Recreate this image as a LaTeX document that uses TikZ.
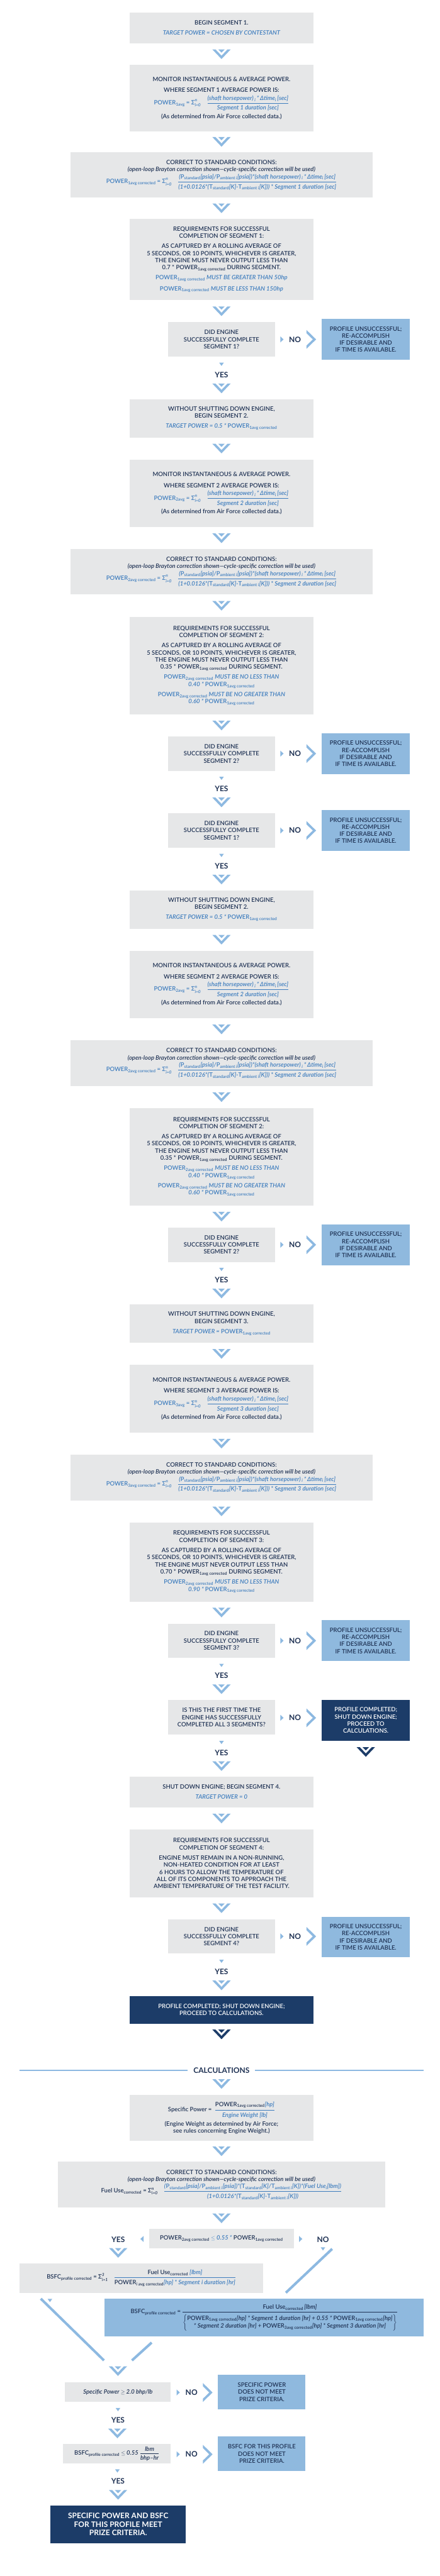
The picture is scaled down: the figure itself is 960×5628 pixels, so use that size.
\documentclass[tikz,border=0pt]{standalone}
\usepackage{fontspec}
\usepackage{amsmath}
\IfFontExistsTF{Lato Semibold}{\setmainfont{Lato}[UprightFont=* Semibold, ItalicFont=* Semibold Italic, BoldFont=* Bold, BoldItalicFont=* Bold Italic]}{\setmainfont{Lato}}
\usetikzlibrary{positioning,calc}

\definecolor{boxgray}{HTML}{E6E7E8}
\definecolor{paleblue}{HTML}{8FB9DE}
\definecolor{navybox}{HTML}{1C3C68}
\definecolor{navytext}{HTML}{1F3254}
\definecolor{formblue}{HTML}{3E7DBE}
\definecolor{chevblue}{HTML}{8DB9E1}

\newcommand{\pwr}[1]{\textup{POWER}\textsubscript{\upshape #1}}
\newcommand{\sub}[2]{\textup{#1}\textsubscript{\upshape #2}}
\newcommand{\avgform}[1]{{\color{formblue}$\text{\pwr{#1avg} = Σ}^{\text{\itshape n}}_{\text{\itshape i=0}}\quad\genfrac{}{}{1.3pt}{0}{\text{\itshape (shaft horsepower)\,\textsubscript{i}\,*\,Δtime\textsubscript{i}\,[sec]}}{\text{\itshape Segment #1 duration [sec]}}$}}
\newcommand{\corrform}[1]{{\color{formblue}$\text{\pwr{#1avg corrected} = Σ}^{\text{\itshape n}}_{\text{\itshape i=0}}\quad\genfrac{}{}{1.3pt}{0}{\text{\itshape (\sub{P}{standard}[psia]/\sub{P}{ambient \itshape i}[psia])*(shaft horsepower)\,\textsubscript{i}\,*\,Δtime\textsubscript{i}\,[sec]}}{\text{\itshape (1+0.0126*(\sub{T}{standard}[K]-\sub{T}{ambient \itshape i}[K])) * Segment #1 duration [sec]}}$}}
\newcommand{\monitor}[1]{MONITOR INSTANTANEOUS \& AVERAGE POWER.\\[8.5pt]WHERE SEGMENT #1 AVERAGE POWER IS:\\[6pt]\avgform{#1}\\[5pt](As determined from Air Force collected data.)}
\newcommand{\correct}[1]{CORRECT TO STANDARD CONDITIONS:\\{\itshape (open-loop Brayton correction shown---cycle-specific correction will be used)}\\[2pt]\corrform{#1}}
\newcommand{\rolling}{AS CAPTURED BY A ROLLING AVERAGE OF\\5 SECONDS, OR 10 POINTS, WHICHEVER IS GREATER,\\THE ENGINE MUST NEVER OUTPUT LESS THAN}
\newcommand{\unsuccessful}{PROFILE UNSUCCESSFUL;\\RE-ACCOMPLISH\\IF DESIRABLE AND\\IF TIME IS AVAILABLE.}

\tikzset{
  flow/.style={fill=boxgray, text=navytext, align=center, inner sep=0pt, font=\fontsize{13}{15.5}\selectfont},
  stepbox/.style={flow, minimum width=402pt},
  widebox/.style={flow, minimum width=660pt},
  askbox/.style={flow, minimum width=233pt, minimum height=75pt},
  failbox/.style={flow, fill=paleblue, minimum width=193pt, minimum height=89pt},
  endbox/.style={flow, fill=navybox, text=white},
  answer/.style={text=navytext, inner sep=0pt, font=\bfseries\fontsize{16.5}{18}\selectfont},
  armline/.style={chevblue, line width=5.5pt},
  pics/vchev/.style={code={
    \fill[#1] (-20,-10.5) -- (0,10.5) -- (20,-10.5) -- (13,-10.5) -- (0,3.2) -- (-13,-10.5) -- cycle;
    \fill[#1] (-7,-10.5) -- (7,-10.5) -- (0,-3.5) -- cycle;
  }},
  pics/hchev/.style={code={
    \fill[chevblue] (-10.5,-20.5) -- (10.5,0) -- (-10.5,20.5) -- (-10.5,13.5) -- (3.3,0) -- (-10.5,-13.5) -- cycle;
  }},
  pics/dtip/.style={code={\fill[chevblue] (-5,-3.5) -- (5,-3.5) -- (0,3.5) -- cycle;}},
  pics/rtip/.style={code={\fill[chevblue] (-3.5,-6.5) -- (3.5,0) -- (-3.5,6.5) -- cycle;}},
  pics/ltip/.style={code={\fill[chevblue] (3.5,-6.5) -- (-3.5,0) -- (3.5,6.5) -- cycle;}}
}

\begin{document}
\begin{tikzpicture}[x=1pt,y=-1pt]
\fill[white] (0,0) rectangle (960,5628);
\useasboundingbox (0,0) rectangle (960,5628);

\node[stepbox, minimum height=68pt] (beg1) at (483.5,61) {BEGIN SEGMENT 1.\\[6pt]{\color{formblue}\itshape TARGET POWER = CHOSEN BY CONTESTANT}};
\node[stepbox, minimum height=145pt] (mon1) at (483.5,214.5) {\monitor{1}};
\node[widebox, minimum height=99pt] (cor1) at (483.5,382.5) {\correct{1}};
\node[stepbox, minimum height=178pt] (req1) at (483.5,567) {REQUIREMENTS FOR SUCCESSFUL\\COMPLETION OF SEGMENT 1:\\[7pt]\rolling\\0.7 * \pwr{1avg corrected} DURING SEGMENT.\\[7pt]{\color{formblue}\pwr{1avg corrected} \itshape MUST BE GREATER THAN 50hp}\\[8pt]{\color{formblue}\pwr{1avg corrected} \itshape MUST BE LESS THAN 150hp}};
\node[askbox] (ask1) at (483.5,741.5) {DID ENGINE\\SUCCESSFULLY COMPLETE\\SEGMENT 1?};
\node[answer] (no1) at (644,741.5) {NO};
\node[failbox] (fail1) at (798.5,741.5) {\unsuccessful};
\node[answer] (yes1) at (483.5,819) {YES};

\node[stepbox, minimum height=84pt] (beg2) at (483.5,914) {WITHOUT SHUTTING DOWN ENGINE,\\BEGIN SEGMENT 2.\\[7pt]{\color{formblue}\itshape TARGET POWER = 0.5 * \pwr{1avg corrected}}};
\node[stepbox, minimum height=148pt] (mon2) at (483.5,1078) {\monitor{2}};
\node[widebox, minimum height=99pt] (cor2) at (483.5,1249.5) {\correct{2}};
\node[stepbox, minimum height=213pt] (req2) at (483.5,1454.5) {REQUIREMENTS FOR SUCCESSFUL\\COMPLETION OF SEGMENT 2:\\[7pt]\rolling\\0.35 * \pwr{1avg corrected} DURING SEGMENT.\\[7pt]{\color{formblue}\pwr{2avg corrected} \itshape MUST BE NO LESS THAN}\\{\color{formblue}\itshape 0.40 * \pwr{1avg corrected}}\\[7pt]{\color{formblue}\pwr{2avg corrected} \itshape MUST BE NO GREATER THAN}\\{\color{formblue}\itshape 0.60 * \pwr{1avg corrected}}};
\node[askbox] (ask2) at (483.5,1646.5) {DID ENGINE\\SUCCESSFULLY COMPLETE\\SEGMENT 2?};
\node[answer] (no2) at (644,1646.5) {NO};
\node[failbox] (fail2) at (798.5,1646.5) {\unsuccessful};
\node[answer] (yes2) at (483.5,1723) {YES};
\node[askbox] (askr) at (483.5,1814.5) {DID ENGINE\\SUCCESSFULLY COMPLETE\\SEGMENT 1?};
\node[answer] (nor) at (644,1814.5) {NO};
\node[failbox] (failr) at (798.5,1814.5) {\unsuccessful};
\node[answer] (yesr) at (483.5,1892) {YES};

\node[stepbox, minimum height=84pt] (beg2r) at (483.5,1987) {WITHOUT SHUTTING DOWN ENGINE,\\BEGIN SEGMENT 2.\\[7pt]{\color{formblue}\itshape TARGET POWER = 0.5 * \pwr{1avg corrected}}};
\node[stepbox, minimum height=148pt] (mon2r) at (483.5,2151) {\monitor{2}};
\node[widebox, minimum height=100pt] (cor2r) at (483.5,2323) {\correct{2}};
\node[stepbox, minimum height=213pt] (req2r) at (483.5,2527.5) {REQUIREMENTS FOR SUCCESSFUL\\COMPLETION OF SEGMENT 2:\\[7pt]\rolling\\0.35 * \pwr{1avg corrected} DURING SEGMENT.\\[7pt]{\color{formblue}\pwr{2avg corrected} \itshape MUST BE NO LESS THAN}\\{\color{formblue}\itshape 0.40 * \pwr{1avg corrected}}\\[7pt]{\color{formblue}\pwr{2avg corrected} \itshape MUST BE NO GREATER THAN}\\{\color{formblue}\itshape 0.60 * \pwr{1avg corrected}}};
\node[askbox] (ask2r) at (483.5,2719.5) {DID ENGINE\\SUCCESSFULLY COMPLETE\\SEGMENT 2?};
\node[answer] (no2r) at (644,2719.5) {NO};
\node[failbox] (fail2r) at (798.5,2719.5) {\unsuccessful};
\node[answer] (yes2r) at (483.5,2796) {YES};

\node[stepbox, minimum height=84pt] (beg3) at (483.5,2892) {WITHOUT SHUTTING DOWN ENGINE,\\BEGIN SEGMENT 3.\\[7pt]{\color{formblue}\itshape TARGET POWER = \pwr{1avg corrected}}};
\node[stepbox, minimum height=148pt] (mon3) at (483.5,3056) {\monitor{3}};
\node[widebox, minimum height=100pt] (cor3) at (483.5,3228) {\correct{3}};
\node[stepbox, minimum height=173pt] (req3) at (483.5,3412.5) {REQUIREMENTS FOR SUCCESSFUL\\COMPLETION OF SEGMENT 3:\\[7pt]\rolling\\0.70 * \pwr{1avg corrected} DURING SEGMENT.\\[7pt]{\color{formblue}\pwr{2avg corrected} \itshape MUST BE NO LESS THAN}\\{\color{formblue}\itshape 0.90 * \pwr{1avg corrected}}};
\node[askbox] (ask3) at (483.5,3584.5) {DID ENGINE\\SUCCESSFULLY COMPLETE\\SEGMENT 3?};
\node[answer] (no3) at (644,3584.5) {NO};
\node[failbox] (fail3) at (798.5,3584.5) {\unsuccessful};
\node[answer] (yes3) at (483.5,3661) {YES};
\node[askbox, minimum height=76pt] (first) at (483.5,3752) {IS THIS THE FIRST TIME THE\\ENGINE HAS SUCCESSFULLY\\COMPLETED ALL 3 SEGMENTS?};
\node[answer] (nofirst) at (644,3753) {NO};
\node[endbox, minimum width=193pt, minimum height=89pt] (done3) at (798.5,3758.5) {PROFILE COMPLETED;\\SHUT DOWN ENGINE;\\PROCEED TO\\CALCULATIONS.};
\node[answer] (yesfirst) at (483.5,3830) {YES};

\node[stepbox, minimum height=68pt] (shut) at (483.5,3915) {SHUT DOWN ENGINE; BEGIN SEGMENT 4.\\[7pt]{\color{formblue}\itshape TARGET POWER = 0}};
\node[stepbox, minimum height=148pt] (req4) at (483.5,4071) {REQUIREMENTS FOR SUCCESSFUL\\COMPLETION OF SEGMENT 4:\\[7pt]ENGINE MUST REMAIN IN A NON-RUNNING,\\NON-HEATED CONDITION FOR AT LEAST\\6 HOURS TO ALLOW THE TEMPERATURE OF\\ALL OF ITS COMPONENTS TO APPROACH THE\\AMBIENT TEMPERATURE OF THE TEST FACILITY.};
\node[askbox] (ask4) at (483.5,4230.5) {DID ENGINE\\SUCCESSFULLY COMPLETE\\SEGMENT 4?};
\node[answer] (no4) at (644,4230.5) {NO};
\node[failbox] (fail4) at (798.5,4232) {\unsuccessful};
\node[answer] (yes4) at (483.5,4308) {YES};
\node[endbox, minimum width=402pt, minimum height=60pt] (done) at (483.5,4391) {PROFILE COMPLETED; SHUT DOWN ENGINE;\\PROCEED TO CALCULATIONS.};

\node[answer] (calc) at (483.5,4523) {CALCULATIONS};
\coordinate (calcl) at (42,4523);
\coordinate (calcr) at (925,4523);
\draw[chevblue, line width=3.5pt] (calcl) -- ([xshift=-13pt]calc.west);
\draw[chevblue, line width=3.5pt] ([xshift=12pt]calc.east) -- (calcr);

\node[stepbox, minimum height=100pt] (spec) at (483.5,4627) {{\color{formblue}$\text{\color{navytext}Specific Power =}\ \ \genfrac{}{}{1.3pt}{0}{\text{\color{navytext}\pwr{1avg corrected}\color{formblue}\itshape[hp]}}{\text{\itshape Engine Weight [lb]}}$}\\[6pt](Engine Weight as determined by Air Force;\\see rules concerning Engine Weight.)};
\node[flow, minimum width=715pt, minimum height=100pt] (fuel) at (483.5,4773) {CORRECT TO STANDARD CONDITIONS:\\{\itshape (open-loop Brayton correction shown---cycle-specific correction will be used)}\\[2pt]{\color{formblue}$\text{\color{navytext}Fuel Use\textsubscript{corrected} = Σ}^{\text{\color{navytext}\itshape n}}_{\text{\color{navytext}\itshape i=0}}\quad\genfrac{}{}{1.3pt}{0}{\text{\itshape (\sub{P}{standard}[psia]/\sub{P}{ambient \itshape i}[psia])*(\sub{T}{standard}[K]/\sub{T}{ambient \itshape i}[K])*(Fuel Use\textsubscript{i}[lbm])}}{\text{\itshape (1+0.0126*(\sub{T}{standard}[K]-\sub{T}{ambient \itshape i}[K]))}}$}};
\node[flow, minimum width=315pt, minimum height=42pt] (cmp) at (483.5,4891) {\pwr{2avg corrected} {\color{formblue}\itshape $\leq$ 0.55 *} \pwr{1avg corrected}};
\node[answer] (yesc) at (258,4893) {YES};
\node[answer] (noc) at (705,4893) {NO};
\node[flow, minimum width=533pt, minimum height=64pt] (bsfcsum) at (308.5,4977) {$\text{BSFC\textsubscript{profile corrected} = Σ}^{\text{\itshape 3}}_{\text{\itshape i=1}}\quad{\color{formblue}\genfrac{}{}{1.3pt}{0}{\text{\color{navytext}Fuel Use\textsubscript{corrected} \color{formblue}\itshape[lbm]}}{\text{\color{navytext}\pwr{\itshape i\upshape\ avg corrected}\color{formblue}\itshape[hp] * Segment i duration [hr]}}}$};
\node[flow, fill=paleblue, minimum width=697pt, minimum height=83pt] (bsfcfix) at (576.5,5063.5) {$\text{BSFC\textsubscript{profile corrected} =}\ \genfrac{}{}{1.3pt}{0}{\text{Fuel Use\textsubscript{corrected}\,\itshape[lbm]}}{\left\{\text{\begin{tabular}{@{}c@{}}\pwr{1avg corrected}\itshape[hp] * Segment 1 duration [hr] + 0.55 * \pwr{1avg corrected}[hp]\\[2pt]\itshape * Segment 2 duration [hr] + \pwr{3avg corrected}[hp] * Segment 3 duration [hr]\end{tabular}}\right\}}$};

\coordinate (nostart) at ($(noc.south)+(20,14)$);
\coordinate (noend) at (624,5009);
\coordinate (funa) at (89,5022);
\coordinate (funb) at (227,5157);
\coordinate (func) at (331,5118);
\coordinate (fund) at (288,5157);

\node[flow, minimum width=231pt, minimum height=43pt] (spw) at (257.5,5226.5) {\itshape Specific Power $\geq$ 2.0 bhp/lb};
\node[answer] (nospw) at (418,5227) {NO};
\node[failbox, minimum width=191pt, minimum height=76pt] (failspw) at (571.5,5226) {SPECIFIC POWER\\DOES NOT MEET\\PRIZE CRITERIA.};
\node[answer] (yesspw) at (257.5,5287) {YES};
\node[flow, minimum width=236pt, minimum height=42pt] (bsfcok) at (255,5361) {$\text{BSFC\textsubscript{profile corrected} \itshape $\leq$ 0.55}\ \genfrac{}{}{1pt}{0}{\text{\itshape lbm}}{\text{\itshape bhp--hr}}$};
\node[answer] (nobsfc) at (418,5362) {NO};
\node[failbox, minimum width=191pt, minimum height=76pt] (failbsfc) at (571.5,5361) {BSFC FOR THIS PROFILE\\DOES NOT MEET\\PRIZE CRITERIA.};
\node[answer] (yesbsfc) at (257.5,5421) {YES};
\node[endbox, minimum width=296pt, minimum height=82pt, font=\bfseries\fontsize{16.5}{19}\selectfont] (prize) at (258,5515) {SPECIFIC POWER AND BSFC\\FOR THIS PROFILE MEET\\PRIZE CRITERIA.};

\foreach \a/\b in {beg1/mon1, mon1/cor1, cor1/req1, req1/ask1, beg2/mon2, mon2/cor2, cor2/req2, req2/ask2, beg2r/mon2r, mon2r/cor2r, cor2r/req2r, req2r/ask2r, beg3/mon3, mon3/cor3, cor3/req3, req3/ask3, shut/req4, req4/ask4, calc/spec, spec/fuel, fuel/cmp}
  \pic at ($(\a.south)!.5!(\b.north)$) {vchev=chevblue};
\foreach \a/\y/\b in {ask1/yes1/beg2, ask2/yes2/askr, askr/yesr/beg2r, ask2r/yes2r/beg3, ask3/yes3/first, first/yesfirst/shut, ask4/yes4/done, spw/yesspw/bsfcok, bsfcok/yesbsfc/prize}{
  \pic at ($(\a.south)!.5!(\y.north)$) {dtip};
  \pic at ($(\y.south)!.5!(\b.north)$) {vchev=chevblue};
}
\foreach \a/\n/\f in {ask1/no1/fail1, ask2/no2/fail2, askr/nor/failr, ask2r/no2r/fail2r, ask3/no3/fail3, first/nofirst/done3, ask4/no4/fail4, spw/nospw/failspw, bsfcok/nobsfc/failbsfc}{
  \pic at ($(\a.east |- \n)!.5!(\n.west)$) {rtip};
  \pic at ($(\n.east)!.5!(\n.east -| \f.west)$) {hchev};
}
\pic at ($(done3.south)+(0,24.5)$) {vchev=navybox};
\pic at ($(done.south)+(0,23.5)$) {vchev=navybox};

\pic at ($(cmp.west)!.3!(yesc.east)$) {ltip};
\pic at ($(cmp.east)!.3!(noc.west)$) {rtip};
\pic at ($(yesc.south)!.5!(yesc.south |- bsfcsum.north)$) {vchev=chevblue};
\pic at ($(noc.south)+(0,14)$) {dtip};
\draw[armline] (nostart) -- (noend);
\pic at ($(funa)+(20,4)$) {dtip};
\draw[armline] (funa) -- (funb);
\draw[armline] (func) -- (fund);
\pic at ($(spw.north)+(0,-24.5)$) {vchev=chevblue};
\end{tikzpicture}
\end{document}
